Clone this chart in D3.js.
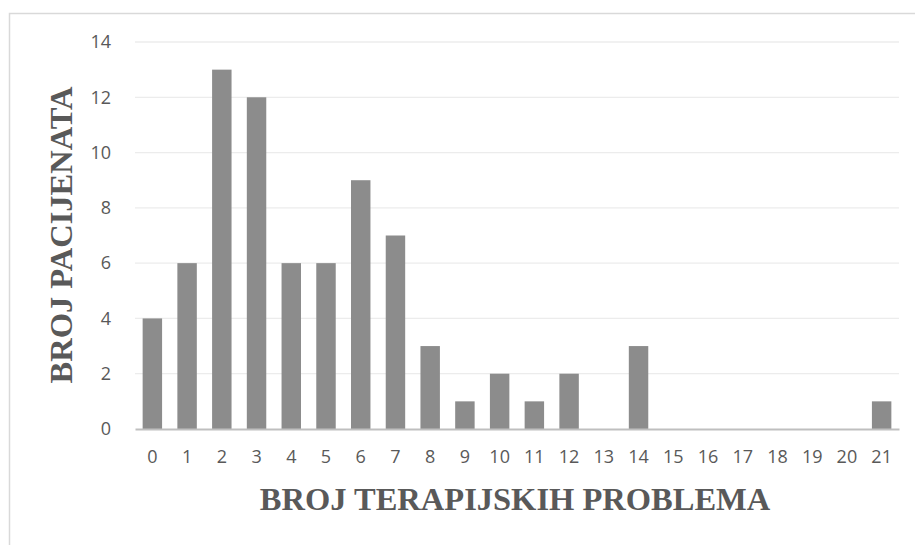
<!DOCTYPE html>
<html>
<head>
<meta charset="utf-8">
<script src="https://cdn.jsdelivr.net/npm/d3@7"></script>
<style>
  body { margin: 0; background: #fff; }
  svg { display: block; }
</style>
</head>
<body>
<svg class="chart" width="915" height="545"></svg>
<script>
const categories = ['0','1','2','3','4','5','6','7','8','9','10','11','12','13','14','15','16','17','18','19','20','21'];
const patients = [4, 6, 13, 12, 6, 6, 9, 7, 3, 1, 2, 1, 2, 0, 3, 0, 0, 0, 0, 0, 0, 1];
const yTicks = [0, 2, 4, 6, 8, 10, 12, 14];
const xTitle = 'BROJ TERAPIJSKIH PROBLEMA';
const yTitle = 'BROJ PACIJENATA';

const drawChart = () => {
  const svg = d3.select('.chart');
  const width = 915, height = 545;
  const plot = { left: 135, right: 899, top: 42, bottom: 429 };
  const tickFont = '"Open Sans", "Noto Sans", sans-serif';
  const titleFont = '"Liberation Serif", "Times New Roman", serif';

  // chart area border (only top and left visible in the crop)
  svg.append('path')
    .attr('d', 'M9.5,' + height + 'V13.5H' + width)
    .attr('fill', 'none')
    .attr('stroke', '#d9d9d9')
    .attr('stroke-width', 1.5);

  var xScale = d3.scaleBand()
    .domain(categories)
    .range([plot.left, plot.right])
    .paddingInner(0.44)
    .paddingOuter(0.22);

  var yScale = d3.scaleLinear()
    .domain([0, 14])
    .range([plot.bottom, plot.top]);

  // gridlines
  svg.append('g')
    .selectAll('line')
    .data(yTicks.filter((t) => t > 0))
    .enter()
    .append('line')
    .attr('x1', plot.left)
    .attr('x2', plot.right)
    .attr('y1', (t) => yScale(t))
    .attr('y2', (t) => yScale(t))
    .attr('stroke', '#ececec')
    .attr('stroke-width', 1.3);

  // bars
  svg.append('g')
    .selectAll('rect')
    .data(patients)
    .enter()
    .append('rect')
    .attr('x', (d, i) => xScale(categories[i]))
    .attr('y', (d) => yScale(d))
    .attr('width', xScale.bandwidth())
    .attr('height', (d) => yScale(0) - yScale(d))
    .attr('fill', '#8c8c8c');

  // x axis
  var xAxis = d3.axisBottom(xScale).tickSize(0).tickPadding(21);
  var gx = svg.append('g')
    .attr('transform', 'translate(0,' + plot.bottom + ')')
    .call(xAxis);
  gx.select('.domain').attr('stroke', '#bfbfbf').attr('stroke-width', 2.2);
  gx.selectAll('text')
    .attr('font-family', tickFont)
    .attr('font-size', 18)
    .attr('fill', '#595959');

  // y axis
  var yAxis = d3.axisLeft(yScale).tickValues(yTicks).tickSize(0).tickPadding(24);
  var gy = svg.append('g')
    .attr('transform', 'translate(' + plot.left + ',0)')
    .call(yAxis);
  gy.select('.domain').remove();
  gy.selectAll('text')
    .attr('font-family', tickFont)
    .attr('font-size', 18)
    .attr('fill', '#595959');

  // axis titles
  svg.append('text')
    .attr('x', 515)
    .attr('y', 510)
    .attr('text-anchor', 'middle')
    .attr('font-family', titleFont)
    .attr('font-weight', 'bold')
    .attr('font-size', 32.5)
    .attr('fill', '#595959')
    .text(xTitle);

  svg.append('text')
    .attr('transform', 'translate(72,235) rotate(-90)')
    .attr('text-anchor', 'middle')
    .attr('font-family', titleFont)
    .attr('font-weight', 'bold')
    .attr('font-size', 32.5)
    .attr('fill', '#595959')
    .text(yTitle);
};

document.addEventListener('DOMContentLoaded', drawChart, false);
</script>
</body>
</html>
